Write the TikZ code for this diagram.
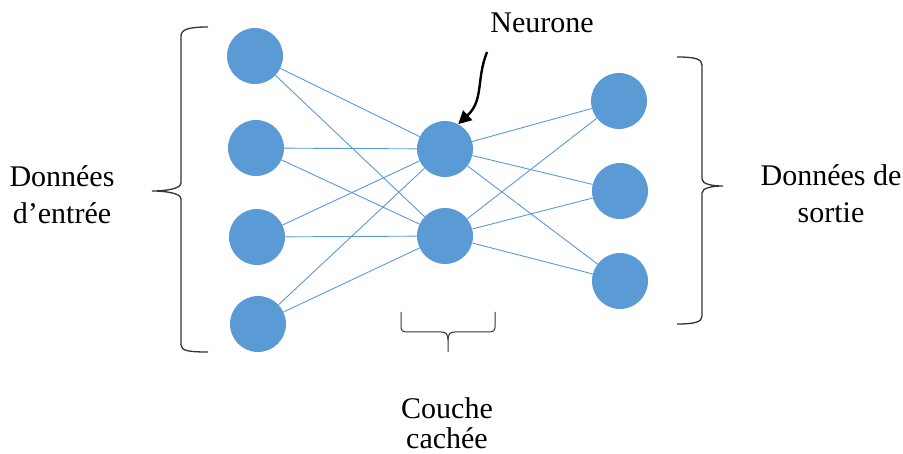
\documentclass[tikz,border=0pt]{standalone}
\usepackage{fontspec}
\setmainfont{Liberation Serif}
\usetikzlibrary{arrows.meta}
\definecolor{neu}{HTML}{5B9BD5}
\begin{document}
\begin{tikzpicture}[x=1pt,y=-1pt,
  neuron/.style={circle,fill=neu,draw=none,minimum size=56pt,inner sep=0pt},
  link/.style={draw=neu,line width=0.9pt},
  brace/.style={draw=black!80,line width=1.3pt},
  lbl/.style={anchor=base,inner sep=0pt,font=\fontsize{30}{36}\selectfont}]
\useasboundingbox (0,0) rectangle (903,454);
\fill[white] (0,0) rectangle (903,454);
% nodes
\node[neuron] (i1) at (255,56) {};
\node[neuron] (i2) at (256,148) {};
\node[neuron] (i3) at (257,237) {};
\node[neuron] (i4) at (258,324) {};
\node[neuron] (h1) at (445,149) {};
\node[neuron] (h2) at (445,236) {};
\node[neuron] (o1) at (619,101) {};
\node[neuron] (o2) at (620,191) {};
\node[neuron] (o3) at (620,281) {};
% links
\foreach \i in {i1,i2,i3,i4}{\foreach \h in {h1,h2}{\draw[link] (\i) -- (\h);}}
\foreach \h in {h1,h2}{\foreach \o in {o1,o2,o3}{\draw[link] (\h) -- (\o);}}
% braces
\draw[brace] (208,27) .. controls (190,27) and (181,29) .. (181,36)
  -- (181,183) .. controls (181,189) and (165,191) .. (152,191)
  .. controls (165,191) and (181,193) .. (181,199)
  -- (181,345) .. controls (181,351) and (190,352) .. (208,352);
\draw[brace] (677,57) .. controls (695,57) and (702,59) .. (702,65)
  -- (702,179) .. controls (702,184) and (712,186) .. (723,186)
  .. controls (712,186) and (702,188) .. (702,193)
  -- (702,316) .. controls (702,322) and (695,324) .. (677,324);
\draw[brace,line width=1pt] (401,312) -- (401,327) .. controls (401,331) and (403,332) .. (408,332)
  -- (441,332) .. controls (446,332) and (448,334) .. (448,340) -- (448,352);
\draw[brace,line width=1pt] (495,312) -- (495,327) .. controls (495,331) and (493,332) .. (488,332)
  -- (455,332) .. controls (450,332) and (448,334) .. (448,340);
% labels
\node[lbl] (tin1) at (62,187) {Données};
\node[lbl] (tin2) at (62,224) {d’entrée};
\node[lbl] (tout1) at (831,186) {Données de};
\node[lbl] (tout2) at (831,223) {sortie};
\node[lbl] (thid1) at (447,419) {Couche};
\node[lbl] (thid2) at (447,449) {cachée};
\node[lbl] (tneu) at (542,33) {Neurone};
\coordinate (astart) at (487,52);
\draw[line width=2.4pt,-{Triangle[length=13pt,width=13pt]}] (astart)
  .. controls (476,80) and (484,100) .. (h1.62);
\end{tikzpicture}
\end{document}
